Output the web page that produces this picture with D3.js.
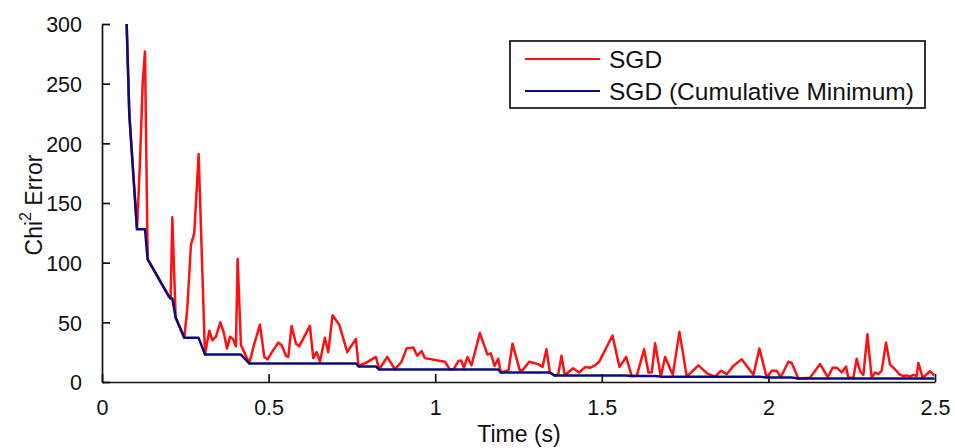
<!DOCTYPE html>
<html>
<head>
<meta charset="utf-8">
<script src="https://cdn.jsdelivr.net/npm/d3@7/dist/d3.min.js"></script>
<style>
  html, body { margin: 0; padding: 0; background: #fff; }
  svg { display: block; font-family: "Liberation Sans", Arial, Helvetica, sans-serif; }
</style>
</head>
<body>
<svg id="chart" width="955" height="448"></svg>
<script>
// SGD run: Chi^2 error per iteration against wall-clock time
const sgdTime = [
  0.074, 0.082, 0.105, 0.114, 0.122, 0.129, 0.137, 0.201, 0.206, 0.211,
  0.221, 0.247, 0.256, 0.267, 0.277, 0.290, 0.309, 0.322, 0.331, 0.342,
  0.355, 0.365, 0.375, 0.384, 0.393, 0.402, 0.407, 0.417, 0.442, 0.455,
  0.474, 0.487, 0.497, 0.510, 0.529, 0.539, 0.552, 0.559, 0.569, 0.582,
  0.592, 0.624, 0.634, 0.644, 0.654, 0.669, 0.679, 0.692, 0.712, 0.736,
  0.762, 0.770, 0.782, 0.792, 0.822, 0.832, 0.856, 0.879, 0.899, 0.914,
  0.934, 0.946, 0.959, 0.969, 1.029, 1.044, 1.055, 1.070, 1.078, 1.086,
  1.097, 1.109, 1.134, 1.157, 1.167, 1.178, 1.189, 1.197, 1.210, 1.220,
  1.232, 1.254, 1.263, 1.282, 1.309, 1.322, 1.334, 1.344, 1.358, 1.369,
  1.379, 1.389, 1.414, 1.432, 1.450, 1.465, 1.480, 1.492, 1.532, 1.553,
  1.573, 1.590, 1.605, 1.627, 1.640, 1.650, 1.660, 1.677, 1.690, 1.713,
  1.733, 1.755, 1.790, 1.817, 1.840, 1.858, 1.875, 1.895, 1.920, 1.955,
  1.973, 1.995, 2.010, 2.025, 2.037, 2.060, 2.070, 2.090, 2.125, 2.155,
  2.178, 2.193, 2.205, 2.220, 2.233, 2.240, 2.255, 2.265, 2.275, 2.285,
  2.297, 2.310, 2.320, 2.330, 2.340, 2.353, 2.365, 2.380, 2.393, 2.405,
  2.415, 2.425, 2.435, 2.445, 2.450, 2.463, 2.485, 2.498
];
const sgdError = [
  300, 224, 128, 185, 250, 277, 103, 71.5, 70, 138,
  54, 37, 62, 115, 125, 191, 23, 43, 35, 38,
  50, 42, 28, 38, 36, 30, 103, 31, 15.6, 30,
  48, 21, 19, 25, 33, 31, 22, 21, 47, 32,
  30, 47, 20, 25, 17, 37, 25, 56, 48, 25,
  36, 13, 15, 16, 21, 10.5, 21, 10.6, 17, 28,
  29, 22, 26, 20, 17, 10.6, 10.6, 17.6, 18, 12,
  21, 14, 41, 23, 24, 13.5, 19.5, 8, 9, 10,
  32, 9.5, 10, 17, 15, 12.5, 27.5, 8, 5.5, 6,
  22, 5.6, 11.5, 8, 12.5, 12, 14, 17, 39, 12.5,
  21, 5, 5.2, 27.5, 8, 8, 32.5, 4.5, 21, 6,
  42, 4.5, 14, 7, 4.5, 9.5, 6.5, 13.5, 19, 6,
  28, 3.7, 9.5, 9.5, 4, 17, 16, 3, 3.5, 15,
  4, 12, 12, 8, 13, 3.5, 3.5, 19.5, 9, 6,
  40, 3.5, 8, 6.5, 9.5, 33, 14.5, 10.7, 6.5, 5,
  5.5, 4.5, 6, 5, 16, 3.5, 9, 5.5
];

// Lowest error reached so far (breakpoints of the running minimum)
const minTime = [
  0.074, 0.082, 0.105, 0.129, 0.137, 0.201, 0.206, 0.211, 0.221, 0.247,
  0.290, 0.309, 0.417, 0.442, 0.762, 0.770, 0.822, 0.832, 1.189, 1.197,
  1.344, 1.358, 1.573, 1.590, 1.660, 1.677, 1.973, 1.995, 2.070, 2.090, 2.498
];
const minError = [
  300, 224, 128, 128, 103, 71.5, 70, 70, 54, 37,
  37, 23, 23, 15.6, 15.6, 13, 13, 10.5, 10.5, 8,
  8, 5.5, 5.5, 5, 5, 4.5, 4.5, 3.7, 3.7, 3, 3
];

const xTicks = [0, 0.5, 1, 1.5, 2, 2.5];
const yTicks = [0, 50, 100, 150, 200, 250, 300];
const seriesNames = ["SGD", "SGD (Cumulative Minimum)"];
const seriesColors = ["#ff1010", "#0c0c78"];

const svg = d3.select("#chart");
const x = d3.scaleLinear().domain([0, 2.5]).range([102, 935]);
const y = d3.scaleLinear().domain([0, 300]).range([382, 24]);

// axes: ticks point into the plot area
const xAxis = svg.append("g")
  .attr("transform", `translate(0,${y(0)})`)
  .call(d3.axisBottom(x).tickValues(xTicks).tickSizeInner(-8).tickSizeOuter(0)
    .tickPadding(18).tickFormat(d3.format("")));
const yAxis = svg.append("g")
  .attr("transform", `translate(${x(0)},0)`)
  .call(d3.axisLeft(y).tickValues(yTicks).tickSizeInner(-8).tickSizeOuter(0)
    .tickPadding(20).tickFormat(d3.format("")));

[xAxis, yAxis].forEach(g => {
  g.select(".domain").attr("stroke", "#111").attr("stroke-width", 1.7);
  g.selectAll(".tick line").attr("stroke", "#111").attr("stroke-width", 1.7);
  g.selectAll(".tick text").attr("fill", "#111").style("font-size", "21.5px")
    .style("font-family", "'Liberation Sans', Arial, sans-serif");
});
xAxis.selectAll(".tick text").attr("dy", "0.71em");
yAxis.selectAll(".tick text").attr("dy", "0.36em");

// series
const lineGen = d3.line().x(d => x(d[0])).y(d => y(d[1]));
const sgdPts = sgdTime.map((t, i) => [t, sgdError[i]]);
const minPts = minTime.map((t, i) => [t, minError[i]]);

svg.append("path").datum(sgdPts).attr("d", lineGen)
  .attr("fill", "none").attr("stroke", seriesColors[0])
  .attr("stroke-width", 2.5).attr("stroke-linejoin", "round");
svg.append("path").datum(minPts).attr("d", lineGen)
  .attr("fill", "none").attr("stroke", seriesColors[1])
  .attr("stroke-width", 2.5).attr("stroke-linejoin", "round");

// axis titles
svg.append("text")
  .attr("x", 519).attr("y", 442)
  .attr("text-anchor", "middle")
  .style("font-size", "23px").attr("fill", "#111")
  .text("Time (s)");

const yl = svg.append("text")
  .attr("transform", "translate(42,205) rotate(-90)")
  .attr("text-anchor", "middle")
  .style("font-size", "23px").attr("fill", "#111");
yl.append("tspan").text("Chi");
yl.append("tspan").attr("dy", -11).style("font-size", "16px").text("2");
yl.append("tspan").attr("dy", 11).text(" Error");

// legend
const leg = svg.append("g");
leg.append("rect")
  .attr("x", 510).attr("y", 41).attr("width", 415).attr("height", 67)
  .attr("fill", "#fff").attr("stroke", "#111").attr("stroke-width", 1.7);
seriesNames.forEach((name, i) => {
  const cy = 59 + i * 32;
  leg.append("line")
    .attr("x1", 525).attr("x2", 600).attr("y1", cy).attr("y2", cy)
    .attr("stroke", seriesColors[i]).attr("stroke-width", 2.2);
  leg.append("text")
    .attr("x", 609).attr("y", cy).attr("dy", "0.36em")
    .style("font-size", "24.5px").attr("fill", "#111")
    .text(name);
});
</script>
</body>
</html>
